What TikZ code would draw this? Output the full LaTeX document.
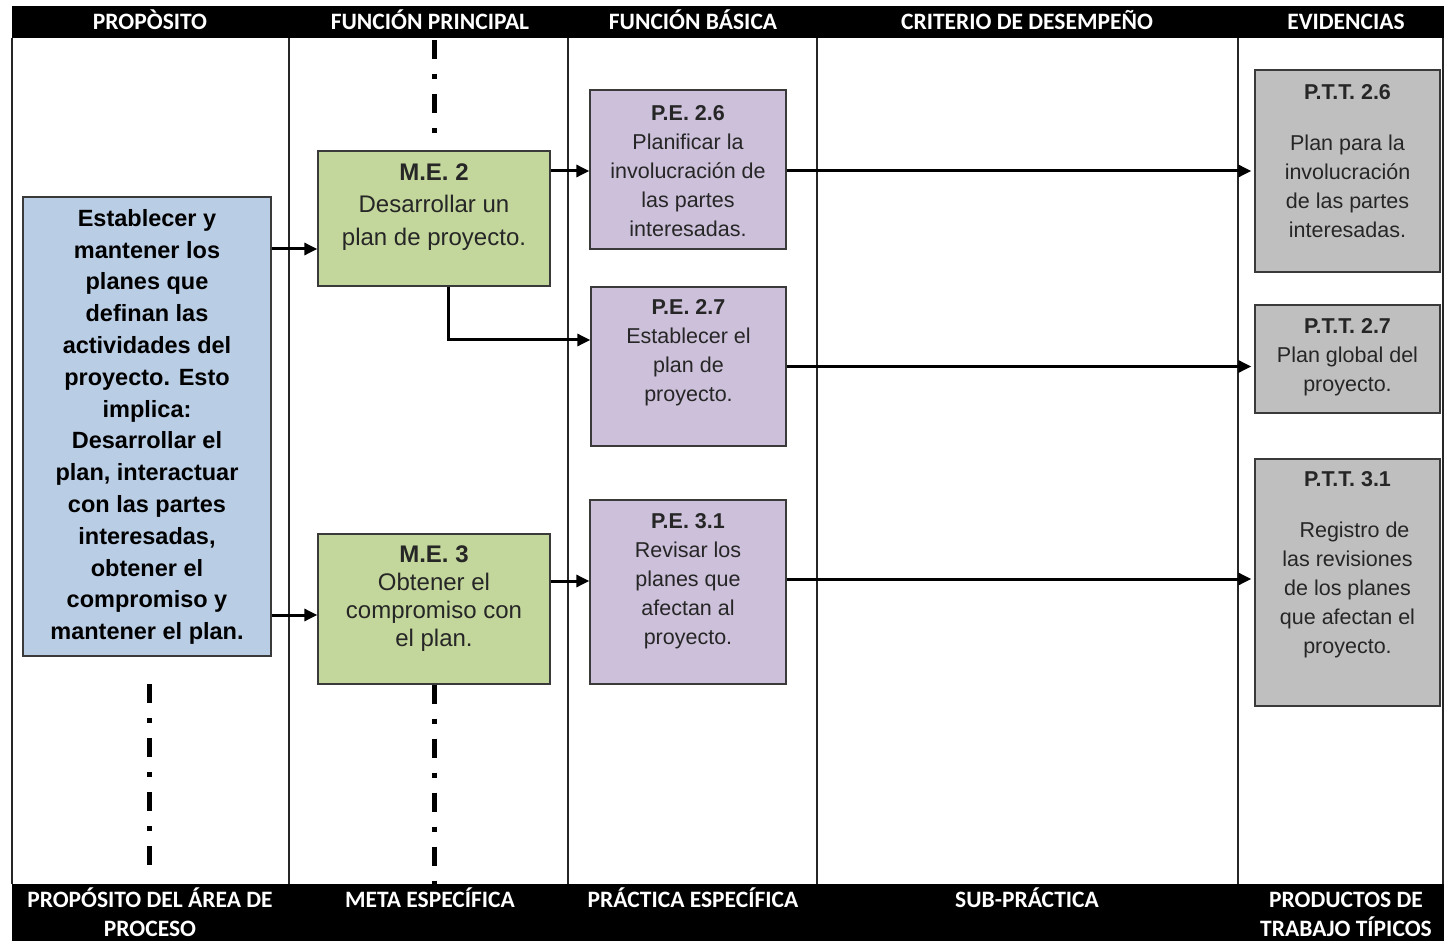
\documentclass[tikz,border=0pt]{standalone}
\usepackage{fontspec}
\setmainfont{Liberation Sans}
\newfontfamily\capfont{Carlito}
\usetikzlibrary{arrows.meta,calc}
\definecolor{boxblue}{HTML}{B9CDE5}
\definecolor{boxgreen}{HTML}{C3D69B}
\definecolor{boxpurple}{HTML}{CCC0DA}
\definecolor{boxgray}{HTML}{BFBFBF}
\definecolor{boxline}{HTML}{3A3A3A}
\definecolor{bodytext}{HTML}{262626}
\begin{document}
\begin{tikzpicture}[x=1pt,y=-1pt,
  box/.style={draw=boxline,line width=1.3pt,inner sep=0pt},
  gridline/.style={draw=black!85,line width=1.2pt},
  caption/.style={text=white,font=\capfont\bfseries\fontsize{23.5}{29}\selectfont,inner sep=0pt,anchor=base},
  bluetext/.style={text=black,font=\bfseries\fontsize{23.5}{31.8}\selectfont,align=center,inner sep=0pt},
  greentext/.style={text=bodytext,font=\fontsize{24}{#1}\selectfont,align=center,inner sep=0pt},
  smalltext/.style={text=bodytext,font=\fontsize{21.5}{29}\selectfont,align=center,inner sep=0pt},
  dashdot/.style={line width=5pt,black,dash pattern=on 19pt off 15pt on 5pt off 15pt},
  arr/.style={line width=3pt,black,-{Triangle[length=13pt,width=12pt]}}
]
\useasboundingbox (0,0) rectangle (1444,941);

% black title bands
\fill[black] (12,6) rectangle (1444,38);
\fill[black] (12,884) rectangle (1444,941);

% frame and column dividers
\draw[gridline] (12,38) -- (12,884);
\draw[gridline] (289,38) -- (289,884);
\draw[gridline] (568,38) -- (568,884);
\draw[gridline] (817,38) -- (817,884);
\draw[gridline] (1238,38) -- (1238,884);
\draw[gridline] (1443,38) -- (1443,884);

% column headings
\node[caption] (h1) at (150,30) {PROPÒSITO};
\node[caption] (h2) at (430,30) {FUNCIÓN PRINCIPAL};
\node[caption] (h3) at (693,30) {FUNCIÓN BÁSICA};
\node[caption] (h4) at (1027,30) {CRITERIO DE DESEMPEÑO};
\node[caption] (h5) at (1346,30) {EVIDENCIAS};

% column footers
\node[caption] (f1a) at (150,907) {PROPÓSITO DEL ÁREA DE};
\node[caption] (f1b) at (150,936) {PROCESO};
\node[caption] (f2) at (430,907) {META ESPECÍFICA};
\node[caption] (f3) at (693,907) {PRÁCTICA ESPECÍFICA};
\node[caption] (f4) at (1027,907) {SUB-PRÁCTICA};
\node[caption] (f5a) at (1346,907) {PRODUCTOS DE};
\node[caption] (f5b) at (1346,936) {TRABAJO TÍPICOS};

% purpose
\node[box,fill=boxblue,minimum width=248pt,minimum height=459pt] (blue) at (147,426.5) {};
\node[bluetext] (bluet) at (147,427) {Establecer y\\mantener los\\planes que\\definan las\\actividades del\\proyecto. Esto\\implica:\\Desarrollar el\\plan, interactuar\\con las partes\\interesadas,\\obtener el\\compromiso y\\mantener el plan.};

% specific goals
\node[box,fill=boxgreen,minimum width=232pt,minimum height=135pt] (me2) at (434,218.5) {};
\node[greentext=32.5] (me2t) at (434,207) {\textbf{M.E. 2}\\Desarrollar un\\plan de proyecto.};
\node[box,fill=boxgreen,minimum width=232pt,minimum height=150pt] (me3) at (434,609) {};
\node[greentext=28] (me3t) at (434,599) {\textbf{M.E. 3}\\Obtener el\\compromiso con\\el plan.};

% specific practices
\node[box,fill=boxpurple,minimum width=196pt,minimum height=159pt] (pe26) at (688,169.5) {};
\node[smalltext] (pe26t) at (688,171.5) {\textbf{P.E. 2.6}\\Planificar la\\involucración de\\las partes\\interesadas.};
\node[box,fill=boxpurple,minimum width=195pt,minimum height=159pt] (pe27) at (688.5,366.5) {};
\node[smalltext] (pe27t) at (688.5,352.5) {\textbf{P.E. 2.7}\\Establecer el\\plan de\\proyecto.};
\node[box,fill=boxpurple,minimum width=196pt,minimum height=184pt] (pe31) at (688,592) {};
\node[smalltext] (pe31t) at (688,581) {\textbf{P.E. 3.1}\\Revisar los\\planes que\\afectan al\\proyecto.};

% typical work products
\node[box,fill=boxgray,minimum width=185pt,minimum height=202pt] (ptt26) at (1347.5,171) {};
\node[smalltext] (ptt26t) at (1347.5,161) {\textbf{P.T.T. 2.6}\\[22pt]Plan para la\\involucración\\de las partes\\interesadas.};
\node[box,fill=boxgray,minimum width=185pt,minimum height=108pt] (ptt27) at (1347.5,359) {};
\node[smalltext] (ptt27t) at (1347.5,357) {\textbf{P.T.T. 2.7}\\Plan global del\\proyecto.};
\node[box,fill=boxgray,minimum width=185pt,minimum height=247pt] (ptt31) at (1347.5,582.5) {};
\node[smalltext] (ptt31t) at (1347.5,564.5) {\textbf{P.T.T. 3.1}\\[22pt]\hspace*{14pt}Registro de\\las revisiones\\de los planes\\que afectan el\\proyecto.};

% dash-dot continuation marks
\coordinate (topA) at (434,40);
\coordinate (topB) at (434,133);
\coordinate (blueA) at (149,684);
\coordinate (blueB) at (149,866);
\coordinate (me3B) at (434,884);
\draw[dashdot] (topA) -- (topB);
\draw[dashdot] (blueA) -- (blueB);
\draw[dashdot] (me3.south) -- (me3B);

% connectors
\coordinate (me2in) at ([yshift=-30.5pt]me2.west);
\coordinate (me3in) at ([yshift=-6pt]me3.west);
\coordinate (me2out) at ([yshift=47.5pt]me2.east);
\coordinate (me3out) at ([yshift=28pt]me3.east);
\coordinate (me2down) at ([xshift=14pt]me2.south);
\coordinate (pe27in) at ([yshift=26.5pt]pe27.west);
\coordinate (pe31out) at ([yshift=13pt]pe31.east);

\draw[arr] (blue.east |- me2in) -- (me2in);
\draw[arr] (blue.east |- me3in) -- (me3in);
\draw[arr] (me2out) -- (me2out -| pe26.west);
\draw[arr] (me2down) |- (pe27in);
\draw[arr] (me3out) -- (me3out -| pe31.west);
\draw[arr,shorten >=3pt] (pe26.east |- ptt26.west) -- (ptt26.west);
\draw[arr,shorten >=3pt] (pe27.east) -- (pe27.east -| ptt27.west);
\draw[arr,shorten >=3pt] (pe31out) -- (pe31out -| ptt31.west);
\end{tikzpicture}
\end{document}
